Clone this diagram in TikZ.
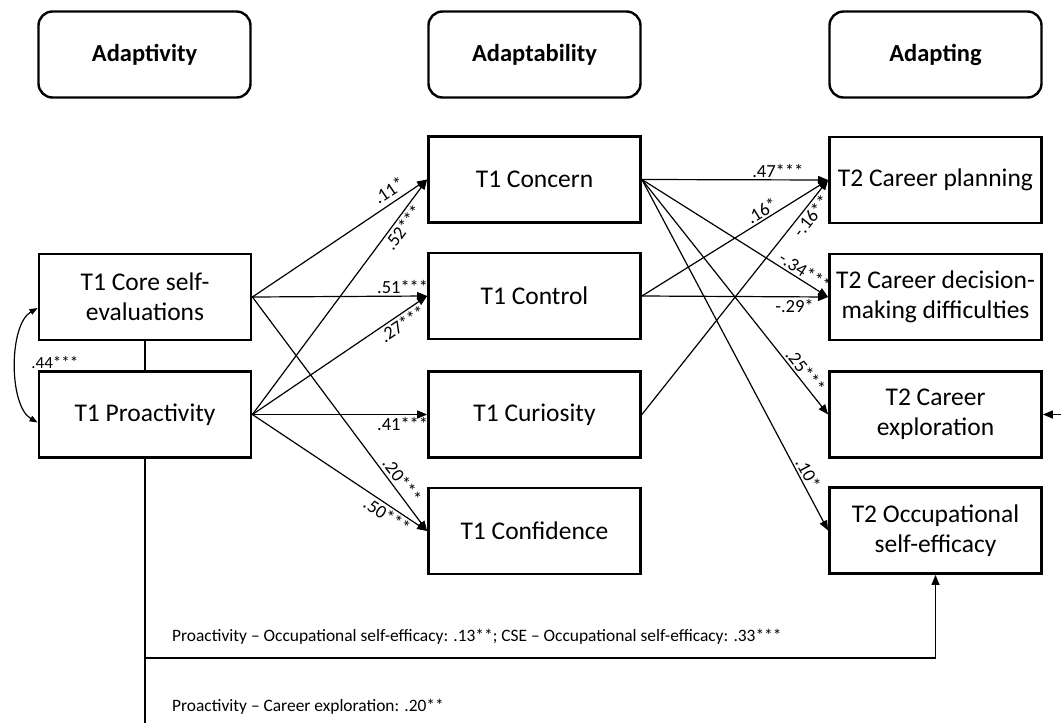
\documentclass[tikz,border=0pt]{standalone}
\usepackage{fontspec}
\setmainfont{Carlito}
\usetikzlibrary{arrows.meta}
\begin{document}
\begin{tikzpicture}[x=1pt,y=-1pt,
  box/.style={draw, line width=2.8pt, minimum width=212pt, minimum height=86pt, align=center, font=\fontsize{25.5}{30}\selectfont, inner sep=2pt},
  head/.style={draw, line width=2.4pt, rounded corners=14pt, minimum width=212pt, minimum height=86pt, font=\bfseries\fontsize{24.5}{29}\selectfont},
  arr/.style={line width=1.2pt, -{Triangle[length=10pt,width=8pt]}},
  dbl/.style={line width=1.2pt, {Triangle[length=8pt,width=6pt]}-{Triangle[length=8pt,width=6pt]}},
  lab/.style={font=\fontsize{18.5}{20}\selectfont, inner sep=2pt, sloped},
  plain/.style={line width=1.2pt},
  note/.style={font=\fontsize{17.4}{20}\selectfont, anchor=west, inner sep=0pt}
]
\useasboundingbox (0,0) rectangle (1061,723);
% headings
\node[head] (hA) at (144.5,54.5) {Adaptivity};
\node[head] (hB) at (534.5,54.5) {Adaptability};
\node[head] (hC) at (935.5,54.5) {Adapting};
% left column
\node[box] (core) at (145,297) {T1 Core self-\\evaluations};
\node[box] (pro) at (145,414.5) {T1 Proactivity};
% middle column
\node[box] (conc) at (534.5,179.5) {T1 Concern};
\node[box] (cont) at (534.5,296) {T1 Control};
\node[box] (curi) at (534.5,414.5) {T1 Curiosity};
\node[box] (conf) at (534.5,531) {T1 Confidence};
% right column
\node[box] (plan) at (935.5,180) {T2 Career planning};
\node[box] (dec) at (935.5,297) {T2 Career decision-\\making difficulties};
\node[box] (expl) at (935.5,414.5) {T2 Career\\exploration};
\node[box] (occ) at (935.5,530.5) {T2 Occupational\\self-efficacy};
% correlation
\draw[dbl] ([yshift=-11pt]core.west) to[out=210,in=150,looseness=0.75] node[pos=0.5, anchor=west, font=\fontsize{17}{19}\selectfont, inner sep=0pt, xshift=15pt, yshift=3pt] {.44***} ([yshift=-8pt]pro.west);
\draw[plain] (core.south) -- (pro.north);
% left paths
\draw[arr] (core.east) -- node[lab, pos=0.82, above=3pt] {.11*} (conc.west);
\draw[arr] (core.east) -- node[lab, pos=0.86, above] {.51***} (cont.west);
\draw[arr] (core.east) -- node[lab, pos=0.81, above=1pt] {.20***} (conf.west);
\draw[arr] (pro.east) -- node[lab, pos=0.82, below] {.52***} (conc.west);
\draw[arr] (pro.east) -- node[lab, pos=0.83, below] {.27***} (cont.west);
\draw[arr] (pro.east) -- node[lab, pos=0.86, below] {.41***} (curi.west);
\draw[arr] (pro.east) -- node[lab, pos=0.80, below] {.50***} (conf.west);
% right paths
\draw[arr] (conc.east) -- node[lab, pos=0.73, above] {.47***} (plan.west);
\draw[arr] (conc.east) -- node[lab, pos=0.85, above] {-.34***} (dec.west);
\draw[arr] (conc.east) -- node[lab, pos=0.84, above] {.25***} (expl.west);
\draw[arr] (conc.east) -- node[lab, pos=0.85, above] {.10*} (occ.west);
\draw[arr] (cont.east) -- node[lab, pos=0.67, above] {.16*} (plan.west);
\draw[arr] (cont.east) -- node[lab, pos=0.82, below] {-.29*} (dec.west);
\draw[arr] (curi.east) -- node[lab, pos=0.87, below] {-.16**} (plan.west);
% bottom paths
\coordinate (bend) at (145,658);
\coordinate (botend) at (145,723);
\coordinate (rin) at (1061,414.5);
\draw[plain] (pro.south) -- (botend);
\draw[arr] (bend) -| (occ.south);
\draw[arr] (rin) -- (expl.east);
\node[note] (n1) at (172,637) {Proactivity – Occupational self-efficacy: .13**; CSE – Occupational self-efficacy: .33***};
\node[note] (n2) at (172,707) {Proactivity – Career exploration: .20**};
\end{tikzpicture}
\end{document}
